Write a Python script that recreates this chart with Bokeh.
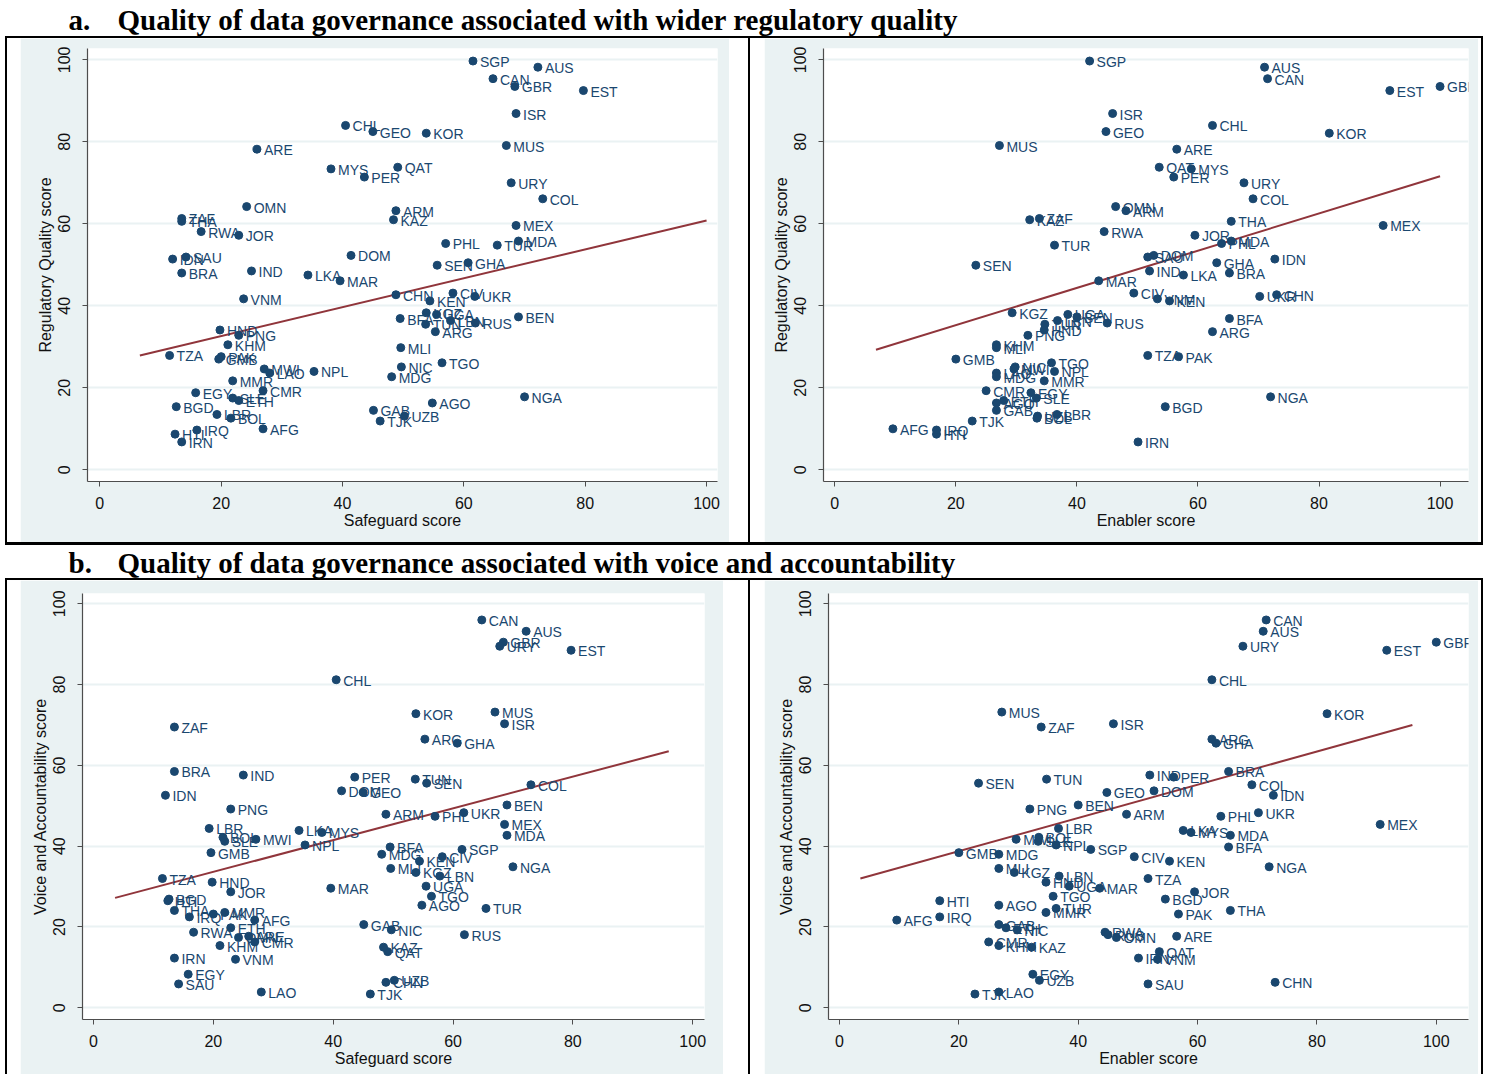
from bokeh.plotting import figure
from bokeh.models import ColumnDataSource, LabelSet, Range1d, FixedTicker, Spacer, Label
from bokeh.layouts import row, column
from bokeh.core.properties import value
from bokeh.embed import file_html
from bokeh.resources import INLINE

countries = ["SGP","AUS","CAN","GBR","EST","ISR","CHL","GEO","KOR","MUS","ARE","MYS","QAT","PER","URY","COL",
             "OMN","ARM","KAZ","ZAF","THA","RWA","JOR","MEX","PHL","TUR","MDA","DOM","IDN","SAU","SEN","GHA",
             "BRA","IND","LKA","MAR","VNM","CHN","KEN","CIV","UKR","BEN","BFA","KGZ","UGA","TUN","LBN","RUS",
             "ARG","HND","PNG","KHM","MLI","TZA","PAK","GMB","NIC","TGO","MWI","LAO","NPL","MDG","MMR","EGY",
             "CMR","SLE","ETH","NGA","AGO","BGD","GAB","UZB","TJK","LBR","BOL","AFG","HTI","IRQ","IRN"]

safeguard = [61.5,72.2,64.8,68.4,79.7,68.6,40.5,45.0,53.8,67.0,25.9,38.1,49.1,43.6,67.8,73.0,
             24.2,48.8,48.4,13.5,13.5,16.7,22.9,68.6,57.0,65.5,69.0,41.4,12.0,14.2,55.6,60.7,
             13.5,25.0,34.3,39.6,23.7,48.8,54.4,58.2,61.8,69.0,49.5,53.8,55.5,53.7,57.8,61.9,
             55.3,19.8,22.9,21.1,49.6,11.5,20.0,19.6,49.7,56.4,27.1,28.0,35.3,48.1,21.9,15.8,
             26.9,21.9,22.9,70.0,54.8,12.6,45.1,50.2,46.2,19.3,21.6,26.9,12.4,16.0,13.5]

enabler = [42.1,71.0,71.5,100.0,91.7,45.9,62.4,44.8,81.7,27.2,56.5,58.9,53.6,56.0,67.6,69.1,
           46.4,48.1,32.2,33.8,65.5,44.5,59.5,90.6,63.9,36.3,65.5,52.7,72.7,51.7,23.3,63.1,
           65.2,52.0,57.6,43.6,53.3,73.0,55.3,49.4,70.2,40.0,65.2,29.3,38.5,34.7,36.8,45.0,
           62.4,34.6,31.9,26.7,26.7,51.7,56.8,20.0,29.8,35.8,29.6,26.7,36.3,26.7,34.6,32.4,
           25.0,33.3,27.9,72.0,26.7,54.6,26.7,33.5,22.7,36.7,33.4,9.6,16.8,16.8,50.1]

regulatory = [99.7,98.2,95.4,93.5,92.5,86.9,84.0,82.5,82.1,79.1,78.2,73.4,73.8,71.4,70.0,66.1,
              64.2,63.2,61.0,61.3,60.6,58.1,57.2,59.6,55.2,54.8,55.8,52.3,51.4,51.9,49.9,50.5,
              48.0,48.5,47.5,46.1,41.7,42.7,41.2,43.1,42.3,37.3,36.9,38.3,37.9,35.5,36.4,35.8,
              33.7,34.1,32.8,30.5,29.8,27.9,27.6,27.0,25.1,26.1,24.6,23.6,24.0,22.7,21.7,18.8,
              19.3,17.5,16.9,17.8,16.3,15.4,14.5,13.1,11.9,13.5,12.6,10.0,8.7,9.7,6.8]

voice = [39.2,93.2,96.0,90.5,88.5,70.3,81.2,53.3,72.8,73.2,17.7,43.4,13.9,57.1,89.5,55.2,
         17.4,47.9,15.0,69.5,24.1,18.7,28.7,45.4,47.4,24.6,42.7,53.7,52.6,5.9,55.6,65.5,
         58.5,57.6,43.9,29.6,12.0,6.3,36.3,37.4,48.3,50.2,39.8,33.5,30.1,56.6,32.6,18.1,
         66.5,31.1,49.2,15.4,34.5,32.0,23.2,38.4,19.3,27.6,41.7,3.9,40.3,38.0,23.6,8.3,
         16.3,41.2,19.8,34.9,25.4,26.9,20.6,6.8,3.4,44.4,42.2,21.7,26.5,22.5,12.3]

# fitted lines (end points)
fit_a_left_x = [6.6, 100.0]
fit_a_left_y = [27.9, 60.8]
fit_a_right_x = [6.8, 100.0]
fit_a_right_y = [29.3, 71.6]
fit_b_left_x = [3.6, 96.0]
fit_b_left_y = [27.2, 63.5]
fit_b_right_x = [3.5, 96.0]
fit_b_right_y = [32.0, 70.0]

ticks = [0, 20, 40, 60, 80, 100]
title_a = "Quality of data governance associated with wider regulatory quality"
title_b = "Quality of data governance associated with voice and accountability"

BG = "#eaf2f3"
NAVY = "#1a476f"
MAROON = "#90353b"
AXC = "#4d4d4d"
SANS = "Liberation Sans"
SERIF = "Liberation Serif"
TOTAL_W = 1483


def panel(xv, yv, fx, fy, xlabel, ylabel, width, height, mb, xr, yr):
    p = figure(width=width, height=height, x_range=Range1d(*xr), y_range=Range1d(*yr),
               output_backend="svg", toolbar_location=None,
               min_border_left=mb[0], min_border_right=mb[1], min_border_top=mb[2], min_border_bottom=mb[3],
               background_fill_color="white", border_fill_color=BG, outline_line_color=None)
    p.line(fx, fy, line_color=MAROON, line_width=2)
    src = ColumnDataSource(dict(x=xv, y=yv, name=countries))
    p.scatter("x", "y", source=src, size=8, fill_color=NAVY, line_color=NAVY)
    labels = LabelSet(x="x", y="y", text="name", source=src, x_offset=7, y_offset=-1,
                      text_baseline="middle", text_align="left", text_font_size="14px",
                      text_color=NAVY, text_font=value(SANS))
    p.add_layout(labels)
    for ax in (p.xaxis, p.yaxis):
        ax.ticker = FixedTicker(ticks=ticks)
        ax.axis_line_color = AXC
        ax.axis_line_width = 1.2
        ax.major_tick_line_color = AXC
        ax.major_tick_out = 5
        ax.major_tick_in = 0
        ax.minor_tick_line_color = None
        ax.major_label_text_font = SANS
        ax.major_label_text_font_size = "16px"
        ax.major_label_text_color = "#111111"
        ax.axis_label_text_font = SANS
        ax.axis_label_text_font_size = "16px"
        ax.axis_label_text_font_style = "normal"
        ax.axis_label_text_color = "#111111"
    p.xaxis.major_label_standoff = 10
    p.xaxis.axis_label_standoff = 0
    p.yaxis.major_label_standoff = 12
    p.yaxis.axis_label_standoff = 2
    p.xaxis.axis_label = xlabel
    p.yaxis.axis_label = ylabel
    p.yaxis.major_label_orientation = "vertical"
    p.xgrid.visible = False
    p.ygrid.grid_line_color = BG
    p.ygrid.grid_line_width = 2
    return p


def title_fig(letter, text, height, base):
    t = figure(width=TOTAL_W, height=height, x_range=Range1d(0, TOTAL_W), y_range=Range1d(0, height),
               x_axis_type=None, y_axis_type=None, output_backend="svg", toolbar_location=None,
               min_border=0, outline_line_color=None, background_fill_color="white",
               border_fill_color="white")
    t.add_layout(Label(x=68, y=base, text=letter, text_font=SERIF, text_font_size="29px",
                       text_font_style="bold", text_color="black", text_baseline="middle"))
    t.add_layout(Label(x=117, y=base, text=text, text_font=SERIF, text_font_size="29px",
                       text_font_style="bold", text_color="black", text_baseline="middle"))
    return t


def blk(w, h):
    return Spacer(width=w, height=h, styles={"background-color": "#000000"})


def wht(w, h):
    return Spacer(width=w, height=h)


def hline(h):
    return row(wht(5, h), blk(TOTAL_W - 5, h), spacing=0)


HA = 504
HB = 494

p_al = panel(safeguard, regulatory, fit_a_left_x, fit_a_left_y, "Safeguard score", "Regulatory Quality score",
             709, HA, (67, 12, 10, 61), (-2.03, 101.8), (-2.85, 102.76))
p_ar = panel(enabler, regulatory, fit_a_right_x, fit_a_right_y, "Enabler score", "Regulatory Quality score",
             714, HA, (59, 10, 10, 61), (-1.87, 104.7), (-2.85, 102.76))
p_bl = panel(safeguard, voice, fit_b_left_x, fit_b_left_y, "Safeguard score", "Voice and Accountability score",
             703, HB, (62, 19, 13, 55), (-1.84, 101.97), (-2.9, 102.55))
p_br = panel(enabler, voice, fit_b_right_x, fit_b_right_y, "Enabler score", "Voice and Accountability score",
             714, HB, (64, 10, 13, 55), (-1.84, 105.4), (-2.9, 102.55))

row_a = row(wht(5, HA), blk(2, HA), wht(13, HA), p_al, wht(19, HA), blk(2, HA), wht(14, HA), p_ar,
            wht(3, HA), blk(2, HA), spacing=0)
row_b = row(wht(5, HB), blk(2, HB), wht(13, HB), p_bl, wht(25, HB), blk(2, HB), wht(14, HB), p_br,
            wht(3, HB), blk(2, HB), spacing=0)

layout = column(
    title_fig("a.", title_a, 36, 17),
    hline(2),
    row_a,
    hline(3),
    title_fig("b.", title_b, 33, 16),
    hline(2),
    row_b,
    spacing=0,
)

open("out.html", "w").write(file_html(layout, INLINE))
